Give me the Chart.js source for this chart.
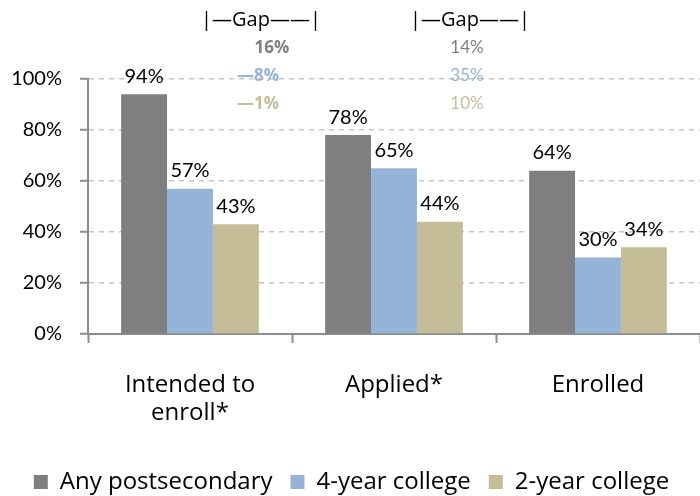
<!DOCTYPE html>
<html>
<head>
<meta charset="utf-8">
<script src="https://cdn.jsdelivr.net/npm/chart.js@4.4.1/dist/chart.umd.min.js"></script>
<style>
  html, body { margin: 0; padding: 0; background: #fff; }
  #wrap { width: 700px; height: 496px; }
</style>
</head>
<body>
<div id="wrap"><canvas id="gapChart"></canvas></div>
<script>
const categories = [['Intended to', 'enroll*'], 'Applied*', 'Enrolled'];
const anyPostsecondary = [94, 78, 64];
const fourYear = [57, 65, 30];
const twoYear = [43, 44, 34];
const yTicks = [0, 20, 40, 60, 80, 100];
// gap notes shown above the first two groups: any / 4-year / 2-year
const gapAny = ['16%', '14%'];
const gapFour = ['\u20148%', '35%'];
const gapTwo = ['\u20141%', '10%'];

const NUM_FONT = 'Lato, sans-serif';
const TXT_FONT = '"Open Sans", sans-serif';
const colors = ['#7f7f7f', '#95b3d7', '#c4bd97'];

// value labels above each bar
const barLabels = {
    id: 'barLabels',
    afterDatasetsDraw(chart) {
        const ctx = chart.ctx;
        ctx.save();
        ctx.font = '20px ' + NUM_FONT;
        ctx.fillStyle = '#000';
        ctx.textAlign = 'center';
        ctx.textBaseline = 'bottom';
        chart.data.datasets.forEach((ds, i) => {
            chart.getDatasetMeta(i).data.forEach((bar, j) => {
                ctx.fillText(ds.data[j] + '%', bar.x, bar.y - 8);
            });
        });
        ctx.restore();
    }
};

// "|—Gap—|" headers with the gap numbers under them
const gapNotes = {
    id: 'gapNotes',
    afterDraw(chart) {
        const ctx = chart.ctx;
        const x = chart.scales.x;
        const head = [71, 76];
        const nums = [[82, 68, 68], [73, 73, 73]];
        ctx.save();
        ctx.textAlign = 'center';
        ctx.textBaseline = 'middle';
        head.forEach((off, i) => {
            const c = x.getPixelForValue(i);
            ctx.font = '20px ' + TXT_FONT;
            ctx.fillStyle = '#000';
            ctx.fillText('|\u2014Gap\u2014\u2014|', c + off, 20);
            ctx.font = i === 0 ? 'bold 17px ' + TXT_FONT : '17px ' + NUM_FONT;
            ctx.fillStyle = colors[0];
            ctx.fillText(gapAny[i], c + nums[i][0], 48);
            ctx.fillStyle = colors[1];
            ctx.fillText(gapFour[i], c + nums[i][1], 76);
            ctx.fillStyle = colors[2];
            ctx.fillText(gapTwo[i], c + nums[i][2], 104);
        });
        ctx.restore();
    }
};

new Chart(document.getElementById('gapChart'), {
    type: 'bar',
    data: {
        labels: categories,
        datasets: [
            { label: 'Any postsecondary', data: anyPostsecondary, backgroundColor: colors[0] },
            { label: '4-year college', data: fourYear, backgroundColor: colors[1] },
            { label: '2-year college', data: twoYear, backgroundColor: colors[2] }
        ]
    },
    options: {
        responsive: true,
        maintainAspectRatio: false,
        animation: false,
        layout: { padding: { top: 79, right: -3, left: 0, bottom: -8 } },
        datasets: { bar: { categoryPercentage: 0.675, barPercentage: 1 } },
        plugins: {
            legend: {
                position: 'bottom',
                labels: {
                    font: { family: TXT_FONT, size: 24 },
                    color: '#000',
                    boxWidth: 14,
                    boxHeight: 14,
                    padding: 18
                }
            },
            tooltip: { enabled: false }
        },
        scales: {
            x: {
                offset: true,
                afterFit(scale) { scale.height = 118; },
                grid: {
                    offset: true,
                    drawOnChartArea: false,
                    drawTicks: true,
                    tickLength: 9,
                    tickColor: '#8c8c8c',
                    tickWidth: 2
                },
                border: { color: '#8c8c8c', width: 2 },
                ticks: {
                    font: { family: TXT_FONT, size: 24, lineHeight: 1.17 },
                    color: '#000',
                    padding: 28,
                    maxRotation: 0
                }
            },
            y: {
                min: 0,
                max: 100,
                afterFit(scale) { scale.width = 88; },
                afterBuildTicks(scale) {
                    scale.ticks = yTicks.map(v => ({ value: v }));
                },
                grid: {
                    color: ctx => ctx.tick && ctx.tick.value === 0 ? 'rgba(0,0,0,0)' : '#c6c6c6',
                    lineWidth: 1.5,
                    tickLength: 8,
                    tickColor: '#8c8c8c',
                    tickWidth: 2,
                    tickBorderDash: []
                },
                border: { color: '#8c8c8c', width: 2, dash: [5, 5] },
                ticks: {
                    font: { family: NUM_FONT, size: 20 },
                    color: '#000',
                    padding: 18,
                    callback: v => v + '%'
                }
            }
        }
    },
    plugins: [barLabels, gapNotes]
});
</script>
</body>
</html>
